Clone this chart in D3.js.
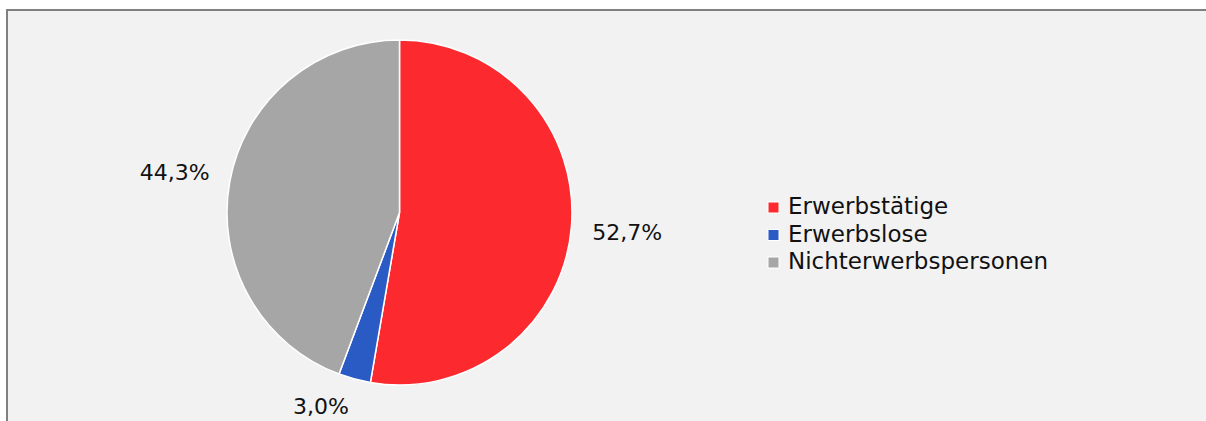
<!DOCTYPE html>
<html lang="de">
<head>
  <meta charset="UTF-8">
  <title>Erwerbsstatus</title>
  <script src="https://d3js.org/d3.v7.min.js"></script>
  <style>
    body { margin: 0; background: #fff; overflow: hidden; }
    svg { display: block; }
    svg text { font-family: "Century Gothic", "DejaVu Sans", sans-serif; fill: #111; }
  </style>
</head>
<body>
  <svg id="chart" width="1206" height="421"></svg>

  <script>
    const categories = ["Erwerbstätige", "Erwerbslose", "Nichterwerbspersonen"];
    const shares = [52.7, 3.0, 44.3];
    const colors = ["#fc2a2e", "#2a5bc4", "#a6a6a6"];

    const svg = d3.select("#chart");
    const W = +svg.attr("width"), H = +svg.attr("height");

    // chart area; only the top and left edges of its frame are in view
    svg.append("rect")
      .attr("x", 7).attr("y", 10)
      .attr("width", W).attr("height", H)
      .attr("fill", "#f2f2f2");
    svg.append("path")
      .attr("d", `M7,${H + 5}V10H${W + 5}`)
      .attr("fill", "none")
      .attr("stroke", "#808080")
      .attr("stroke-width", 2);

    const cx = 399.5, cy = 212.5, r = 172.5;
    const g = svg.append("g").attr("transform", `translate(${cx},${cy})`);

    const data = categories.map((name, i) => ({ name, value: shares[i], color: colors[i] }));

    const pie = d3.pie().sort(null).value(d => d.value);
    const arc = d3.arc().innerRadius(0).outerRadius(r);
    const labelArc = d3.arc().innerRadius(r + 56).outerRadius(r + 56);

    const arcs = pie(data);

    g.selectAll("path")
      .data(arcs)
      .enter().append("path")
      .attr("d", arc)
      .attr("fill", d => d.data.color)
      .attr("stroke", "#fff")
      .attr("stroke-width", 1.5);

    const fmt = v => v.toFixed(1).replace(".", ",") + "%";

    g.selectAll(".lbl")
      .data(arcs)
      .enter().append("text")
      .attr("class", "lbl")
      .attr("transform", d => {
        let [x, y] = labelArc.centroid(d);
        const maxY = H - cy - 15;
        if (y > maxY) {
          // label would fall off the bottom: pull it up and slide it sideways
          x += Math.sign(x) * (y - maxY) * 0.7;
          y = maxY;
        }
        return `translate(${x},${y})`;
      })
      .attr("text-anchor", "middle")
      .attr("dy", "0.36em")
      .style("font-size", "22px")
      .text(d => fmt(d.data.value));

    // legend
    const legend = svg.append("g").attr("transform", "translate(768,202)");
    const item = legend.selectAll("g")
      .data(data)
      .enter().append("g")
      .attr("transform", (d, i) => `translate(0,${i * 27.5})`);

    item.append("rect")
      .attr("width", 11).attr("height", 11)
      .attr("fill", d => d.color)
      .attr("stroke", "#fff")
      .attr("stroke-width", 1);

    item.append("text")
      .attr("x", 20).attr("y", 12)
      .style("font-size", "23px")
      .text(d => d.name);
  </script>
</body>
</html>
